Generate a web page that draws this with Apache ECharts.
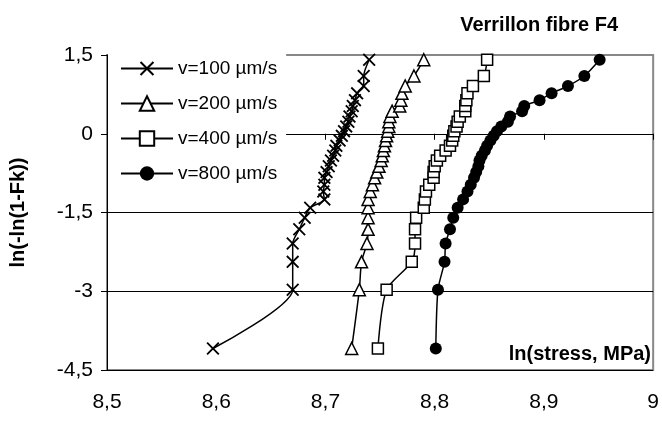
<!DOCTYPE html>
<html>
<head>
<meta charset="utf-8">
<script src="https://cdn.jsdelivr.net/npm/echarts@6/dist/echarts.min.js"></script>
<style>
html, body { margin: 0; padding: 0; background: #fff; }
#chart { width: 662px; height: 421px; }
</style>
</head>
<body>
<div id="chart"></div>
<script>
// ln(-ln(1-Fk)) levels (same 30 ranks in every series)
var fkLevels = [-4.09, -2.97, -2.44, -2.09, -1.82, -1.60, -1.41, -1.25, -1.10, -0.97,
    -0.84, -0.73, -0.62, -0.51, -0.42, -0.32, -0.23, -0.13, -0.04, 0.05,
    0.14, 0.23, 0.33, 0.43, 0.53, 0.64, 0.77, 0.91, 1.10, 1.41];

// ln(stress) for each rank
var v100 = [8.597, 8.670, 8.670, 8.670, 8.676, 8.681, 8.686, 8.699, 8.698, 8.699,
    8.699, 8.701, 8.703, 8.705, 8.707, 8.709, 8.710, 8.713, 8.715, 8.717,
    8.719, 8.721, 8.722, 8.724, 8.725, 8.727, 8.729, 8.735, 8.735, 8.740];
var v200 = [8.724, 8.731, 8.733, 8.738, 8.739, 8.739, 8.739, 8.739, 8.741, 8.743,
    8.745, 8.747, 8.749, 8.751, 8.752, 8.753, 8.754, 8.755, 8.756, 8.757,
    8.758, 8.758, 8.759, 8.761, 8.768, 8.769, 8.770, 8.773, 8.781, 8.790];
var v400 = [8.748, 8.756, 8.779, 8.782, 8.782, 8.783, 8.790, 8.791, 8.792, 8.795,
    8.799, 8.799, 8.800, 8.802, 8.805, 8.810, 8.814, 8.816, 8.817, 8.818,
    8.820, 8.821, 8.823, 8.828, 8.828, 8.829, 8.830, 8.835, 8.845, 8.848];
var v800 = [8.801, 8.803, 8.809, 8.810, 8.814, 8.817, 8.821, 8.826, 8.830, 8.833,
    8.836, 8.838, 8.840, 8.841, 8.843, 8.846, 8.848, 8.851, 8.854, 8.857,
    8.861, 8.867, 8.869, 8.880, 8.882, 8.896, 8.907, 8.922, 8.937, 8.951];

var seriesNames = ['v=100 µm/s', 'v=200 µm/s', 'v=400 µm/s', 'v=800 µm/s'];

var font = 'Liberation Sans, Arial, sans-serif';
var crossPath = 'path://M1,0L5,4L9,0L10,1L6,5L10,9L9,10L5,6L1,10L0,9L4,5L0,1Z';

function pairs(xs) {
    return xs.map(function(x, i) { return [x, fkLevels[i]]; });
}

function comma(v) {
    return String(Math.round(v * 10) / 10).replace('.', ',');
}

var myChart = echarts.init(document.getElementById('chart'));

var lineStyle = { color: '#000', width: 1.5 };

var option = {
    backgroundColor: '#fff',
    animation: false,
    title: [
        {
            text: 'Verrillon fibre F4',
            right: 39,
            top: 10,
            textStyle: { fontFamily: font, fontSize: 20, fontWeight: 'bold', color: '#000' }
        },
        {
            text: 'ln(stress, MPa)',
            right: 6,
            top: 339,
            textStyle: { fontFamily: font, fontSize: 20, fontWeight: 'bold', color: '#000' }
        }
    ],
    grid: {
        left: 106,
        right: 6,
        top: 55,
        bottom: 51,
        show: true,
        borderColor: '#888',
        borderWidth: 2
    },
    legend: {
        orient: 'vertical',
        left: 108,
        top: 50,
        padding: [9, 9, 6, 12],
        itemGap: 16,
        itemWidth: 52,
        itemHeight: 18,
        backgroundColor: '#fff',
        data: seriesNames,
        textStyle: { fontFamily: font, fontSize: 19, color: '#000' }
    },
    xAxis: {
        type: 'value',
        min: 8.5,
        max: 9,
        interval: 0.1,
        axisLine: { lineStyle: { color: '#000', width: 1 } },
        axisTick: { show: true, inside: false, length: 6, lineStyle: { color: '#000' } },
        axisLabel: {
            margin: 22,
            fontFamily: font,
            fontSize: 21,
            color: '#000',
            formatter: comma
        },
        splitLine: { show: false }
    },
    yAxis: {
        type: 'value',
        min: -4.5,
        max: 1.5,
        interval: 1.5,
        name: 'ln(-ln(1-Fk))',
        nameLocation: 'middle',
        nameRotate: 90,
        nameGap: 79,
        nameTextStyle: { fontFamily: font, fontSize: 20, fontWeight: 'bold', color: '#000' },
        axisLine: { show: true, lineStyle: { color: '#000', width: 1 } },
        axisTick: { show: true, inside: false, length: 6, lineStyle: { color: '#000' } },
        axisLabel: {
            margin: 14,
            fontFamily: font,
            fontSize: 21,
            color: '#000',
            formatter: comma
        },
        splitLine: { show: true, showMaxLine: false, lineStyle: { color: '#000', width: 1 } }
    },
    series: [
        {
            name: seriesNames[0],
            type: 'line',
            smooth: 0.25,
            data: pairs(v100),
            symbol: crossPath,
            symbolSize: 13,
            lineStyle: lineStyle,
            itemStyle: { color: '#000', borderWidth: 0 }
        },
        {
            name: seriesNames[1],
            type: 'line',
            smooth: 0.25,
            data: pairs(v200),
            symbol: 'triangle',
            symbolSize: 12,
            lineStyle: lineStyle,
            itemStyle: { color: '#fff', borderColor: '#000', borderWidth: 1.5 }
        },
        {
            name: seriesNames[2],
            type: 'line',
            smooth: 0.25,
            data: pairs(v400),
            symbol: 'rect',
            symbolSize: 11,
            lineStyle: lineStyle,
            itemStyle: { color: '#fff', borderColor: '#000', borderWidth: 1.5 }
        },
        {
            name: seriesNames[3],
            type: 'line',
            smooth: 0.25,
            data: pairs(v800),
            symbol: 'circle',
            symbolSize: 12,
            lineStyle: lineStyle,
            itemStyle: { color: '#000', borderWidth: 0 }
        }
    ]
};

myChart.setOption(option);
</script>
</body>
</html>
